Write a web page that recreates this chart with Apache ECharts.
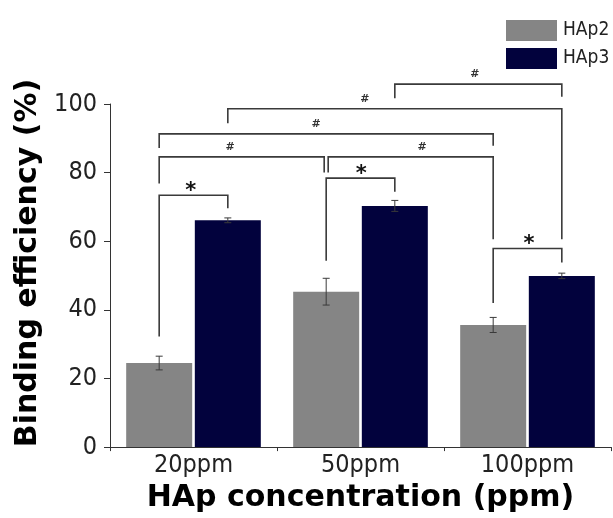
<!DOCTYPE html>
<html><head><meta charset="utf-8">
<script src="https://cdn.jsdelivr.net/npm/echarts@6/dist/echarts.min.js"></script>
<style>html,body{margin:0;padding:0;background:#fff}#c{width:613px;height:518px}</style>
</head><body><div id="c"></div>
<script>
// ---- data ----
const categories = ['20ppm', '50ppm', '100ppm'];
const seriesNames = ['HAp2', 'HAp3'];
const hap2 = [24.5, 45.3, 35.6];
const hap2Err = [2.0, 3.9, 2.2];
const hap3 = [66.1, 70.3, 49.9];
const hap3Err = [0.7, 1.6, 0.8];
const yTicks = [0, 20, 40, 60, 80, 100];
// significance brackets: [category A, series A, category B, series B]
const bracketSpans = [
  [1, 1, 2, 1],
  [0, 1, 2, 1],
  [0, 0, 2, 0],
  [0, 0, 1, 0],
  [1, 0, 2, 0],
  [0, 0, 0, 1],
  [1, 0, 1, 1],
  [2, 0, 2, 1]
];
const bracketMarks = ['#', '#', '#', '#', '#', '*', '*', '*'];
const bracketLevels = [105.8, 98.6, 91.3, 84.6, 84.6, 73.4, 78.4, 57.9];
const bracketLeftEnds = [101.7, 94.4, 87.2, 76.8, 80.0, 32.2, 54.3, 42.0];
const bracketRightEnds = [102.1, 60.6, 87.8, 80.0, 60.6, 69.6, 74.4, 53.8];
const markFractions = [0.48, 0.41, 0.47, 0.43, 0.57, 0.46, 0.51, 0.52];

// ---- styling ----
const COLORS = ['#858585', '#02023d'];
const BAR_W = 66;
const GAP_PCT = 4;
const OFF = (BAR_W + BAR_W * GAP_PCT / 100) / 2;
const FONT = '"DejaVu Sans Condensed", "Liberation Sans Narrow", "DejaVu Sans", sans-serif';
const LINE = '#3a3a3a';

const chart = echarts.init(document.getElementById('c'), null, {renderer: 'canvas'});

function errSeries(vals, errs, sIdx) {
  return {
    type: 'custom',
    z: 5,
    data: vals.map((v, i) => [i, v, errs[i]]),
    renderItem: function (params, api) {
      const c = api.value(0), v = api.value(1), e = api.value(2);
      const x = api.coord([c, 0])[0] + (sIdx === 0 ? -OFF : OFF);
      const yt = api.coord([c, v + e])[1];
      const yb = api.coord([c, v - e])[1];
      const cap = 3.5;
      const st = {stroke: LINE, lineWidth: 1};
      return {type: 'group', children: [
        {type: 'line', shape: {x1: x, y1: yt, x2: x, y2: yb}, style: st},
        {type: 'line', shape: {x1: x - cap, y1: yt, x2: x + cap, y2: yt}, style: st},
        {type: 'line', shape: {x1: x - cap, y1: yb, x2: x + cap, y2: yb}, style: st}
      ]};
    },
    silent: true
  };
}

const bracketSeries = {
  type: 'custom',
  z: 6,
  clip: false,
  silent: true,
  data: bracketSpans.map((s, i) => [s[0], bracketLevels[i]]),
  renderItem: function (params, api) {
    const i = params.dataIndex;
    const s = bracketSpans[i];
    let xa = api.coord([s[0], 0])[0] + (s[1] === 0 ? -OFF : OFF);
    let xb = api.coord([s[2], 0])[0] + (s[3] === 0 ? -OFF : OFF);
    // separate brackets that meet at one point at the same level
    bracketSpans.forEach((o, j) => {
      if (j === i || bracketLevels[j] !== bracketLevels[i]) return;
      if (o[0] === s[2] && o[1] === s[3]) xb -= 2;
      if (o[2] === s[0] && o[3] === s[1]) xa += 2;
    });
    const yl = api.coord([0, bracketLevels[i]])[1];
    const ya = api.coord([0, bracketLeftEnds[i]])[1];
    const yb = api.coord([0, bracketRightEnds[i]])[1];
    const isStar = bracketMarks[i] === '*';
    const xm = xa + (xb - xa) * markFractions[i];
    return {type: 'group', children: [
      {type: 'polyline', shape: {points: [[xa, ya], [xa, yl], [xb, yl], [xb, yb]]}, style: {stroke: LINE, lineWidth: 1.6, fill: null}},
      {type: 'text', style: {
        text: bracketMarks[i], x: xm, y: isStar ? yl + 7 : yl - 4,
        align: 'center', verticalAlign: 'bottom',
        font: isStar ? 'bold 21px "DejaVu Sans", sans-serif' : 'bold 11px "DejaVu Sans", sans-serif',
        fill: isStar ? '#111' : '#333'
      }}
    ]};
  }
};

const option = {
  animation: false,
  backgroundColor: '#fff',
  grid: {left: 110, right: 2, top: 104, bottom: 69, containLabel: false},
  legend: {
    data: seriesNames,
    orient: 'vertical',
    left: 501, top: 15,
    itemWidth: 51, itemHeight: 21, itemGap: 7,
    icon: 'rect',
    textStyle: {fontFamily: FONT, fontSize: 19, color: '#222', padding: [0, 0, 0, 1]}
  },
  xAxis: {
    type: 'category',
    data: categories,
    axisLine: {lineStyle: {color: '#333', width: 1}},
    axisTick: {show: true, length: 4, lineStyle: {color: '#333'}},
    axisLabel: {fontFamily: FONT, fontSize: 25, color: '#222', margin: 6},
    name: 'HAp concentration (ppm)',
    nameLocation: 'middle',
    nameGap: 34,
    nameTextStyle: {fontFamily: '"DejaVu Sans", sans-serif', fontWeight: 'bold', fontSize: 30, color: '#000'}
  },
  yAxis: {
    type: 'value',
    min: yTicks[0], max: yTicks[yTicks.length - 1], interval: yTicks[1] - yTicks[0],
    axisLine: {show: true, lineStyle: {color: '#333', width: 1}},
    axisTick: {show: true, length: 6, lineStyle: {color: '#333'}},
    splitLine: {show: false},
    axisLabel: {fontFamily: FONT, fontSize: 25, color: '#222', margin: 13}
  },
  graphic: [{
    type: 'text',
    x: 28, y: 263,
    rotation: Math.PI / 2,
    style: {
      text: 'Binding efficiency (%)',
      font: 'bold 30px "DejaVu Sans", sans-serif',
      fill: '#000',
      align: 'center', verticalAlign: 'middle'
    }
  }],
  series: [
    {name: seriesNames[0], type: 'bar', data: hap2, barWidth: BAR_W, barGap: GAP_PCT + '%', itemStyle: {color: COLORS[0]}, z: 2},
    {name: seriesNames[1], type: 'bar', data: hap3, barWidth: BAR_W, barGap: GAP_PCT + '%', itemStyle: {color: COLORS[1]}, z: 2},
    errSeries(hap2, hap2Err, 0),
    errSeries(hap3, hap3Err, 1),
    bracketSeries
  ]
};
chart.setOption(option);
</script>
</body></html>
